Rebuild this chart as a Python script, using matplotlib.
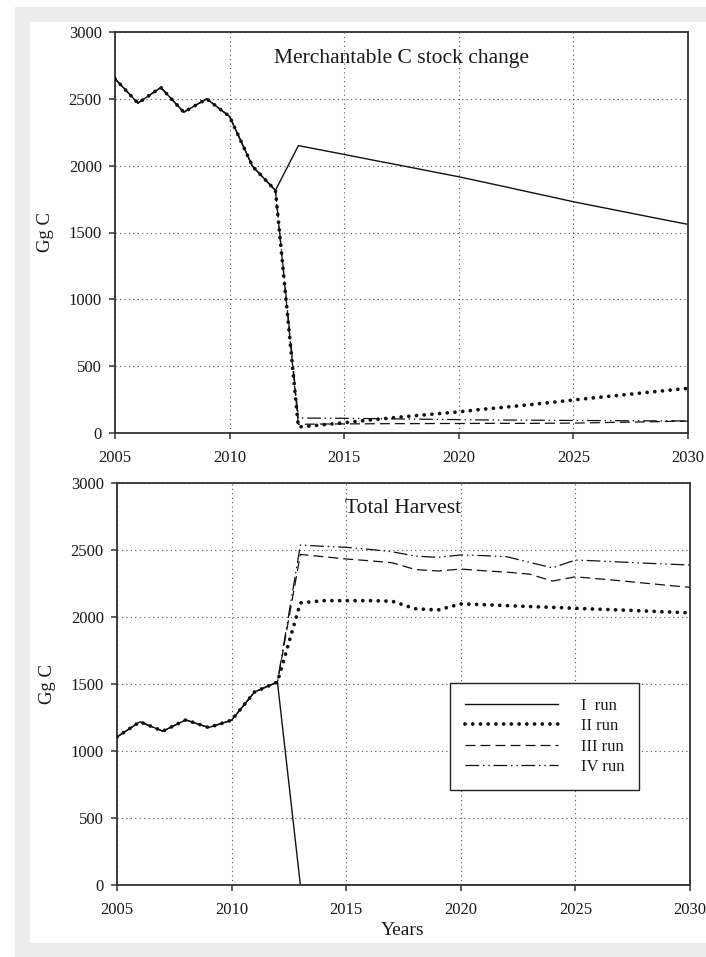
import matplotlib
matplotlib.use("Agg")
from matplotlib import pyplot as plt
from matplotlib.patches import Rectangle

plt.rcParams['font.family'] = ['Liberation Serif', 'DejaVu Serif']

# -----------------------------------------------------------------------------
#                                Data (Gg C)
# -----------------------------------------------------------------------------
years = list(range(2005, 2031))
run_labels = ['I  run', 'II run', 'III run', 'IV run']

# Merchantable C stock change, common part 2005-2012
stock_hist = [2650, 2468, 2585, 2400, 2500, 2368, 1995, 1815]
stock_run1 = stock_hist + [2150, 2117, 2084, 2050, 2017, 1984, 1950, 1917, 1880,
                           1843, 1805, 1768, 1730, 1696, 1662, 1628, 1594, 1561]
stock_run2 = stock_hist + [45, 60, 77, 95, 112, 128, 143, 158, 177,
                           193, 210, 228, 247, 265, 282, 300, 317, 334]
stock_run3 = stock_hist + [65, 67, 68, 69, 70, 70, 71, 71, 72,
                           72, 72, 73, 74, 77, 80, 83, 86, 89]
stock_run4 = stock_hist + [112, 111, 110, 108, 106, 104, 102, 100, 98,
                           97, 96, 95, 94, 93, 92, 91, 91, 90]

# Total harvest, common part 2005-2012
harv_hist = [1105, 1218, 1148, 1232, 1175, 1230, 1440, 1515]
harv_run1 = harv_hist + [0] * 18
harv_run2 = harv_hist + [2105, 2122, 2122, 2122, 2118, 2062, 2052, 2098, 2092,
                         2085, 2078, 2072, 2065, 2058, 2052, 2045, 2038, 2031]
harv_run3 = harv_hist + [2467, 2450, 2433, 2420, 2405, 2355, 2343, 2358, 2345,
                         2335, 2320, 2268, 2300, 2285, 2270, 2253, 2237, 2221]
harv_run4 = harv_hist + [2537, 2528, 2520, 2505, 2487, 2455, 2445, 2463, 2458,
                         2450, 2408, 2367, 2425, 2418, 2410, 2402, 2395, 2388]

# -----------------------------------------------------------------------------
#                                Styles
# -----------------------------------------------------------------------------
LINE = '#111111'
styles = [
    dict(color=LINE, lw=1.0, linestyle='-', zorder=2),
    dict(color=LINE, lw=2.7, linestyle=(0, (0.01, 2.05)),
         dash_capstyle='round', zorder=4),
    dict(color=LINE, lw=0.9, linestyle=(0, (8, 4)), zorder=3),
    dict(color=LINE, lw=0.9, linestyle=(0, (11, 3, 1.2, 3, 1.2, 3)), zorder=3),
]

W, H = 706, 957
fig = plt.figure(figsize=(W / 100, H / 100), dpi=100)
fig.patch.set_facecolor('white')

# grey frame around the white page
fig.patches.append(Rectangle((15 / W, 0), 1, 1 - 7 / H, transform=fig.transFigure,
                             facecolor='#ececec', edgecolor='none', zorder=-3))
fig.patches.append(Rectangle((30 / W, 1 - 943 / H), 1, (943 - 22) / H,
                             transform=fig.transFigure, facecolor='white',
                             edgecolor='none', zorder=-2))

ax1 = fig.add_axes([115 / W, 1 - 433 / H, 573 / W, 401 / H])
ax2 = fig.add_axes([117 / W, 1 - 885 / H, 573 / W, 402 / H])

panels = [
    (ax1, [stock_run1, stock_run2, stock_run3, stock_run4],
     'Merchantable C stock change', (0.2775, 0.9227)),
    (ax2, [harv_run1, harv_run2, harv_run3, harv_run4],
     'Total Harvest', (0.398, 0.925)),
]

for ax, series, title, tpos in panels:
    for vals, st, lab in zip(series, styles, run_labels):
        ax.plot(years, vals, label=lab, **st)

    ax.set_xlim(2005, 2030)
    ax.set_ylim(0, 3000)
    ax.set_xticks(range(2005, 2031, 5))
    ax.set_yticks(range(0, 3001, 500))
    ax.grid(True, color='#555555', linestyle=(0, (1, 3)), linewidth=0.8, zorder=1)
    ax.set_axisbelow(True)

    for sp in ax.spines.values():
        sp.set_color('#333333')
        sp.set_linewidth(1.3)
    ax.tick_params(direction='out', length=4.5, width=1.1, color='#333333',
                   labelsize=12, labelcolor='#1a1a1a')
    ax.tick_params(axis='x', pad=8)
    ax.tick_params(axis='y', pad=5)

    ax.set_ylabel('Gg C', fontsize=13.5, color='#1a1a1a')
    ax.yaxis.set_label_coords(-0.107, 0.5)

    ax.text(tpos[0], tpos[1], title, transform=ax.transAxes, fontsize=15.5,
            ha='left', va='baseline', color='#1a1a1a')

ax2.set_xlabel('Years', fontsize=14, color='#1a1a1a')
ax2.xaxis.set_label_coords(0.499, -0.093)

leg = ax2.legend(loc='upper left', bbox_to_anchor=(0.581, 0.5025), fontsize=12,
                 handlelength=5.6, handletextpad=1.35, labelspacing=0.26,
                 borderpad=0.9, borderaxespad=0, fancybox=False, framealpha=1,
                 edgecolor='#222222')
leg.get_frame().set_linewidth(1.0)
for t in leg.get_texts():
    t.set_color('#1a1a1a')

fig.savefig('out.png', dpi=100)
